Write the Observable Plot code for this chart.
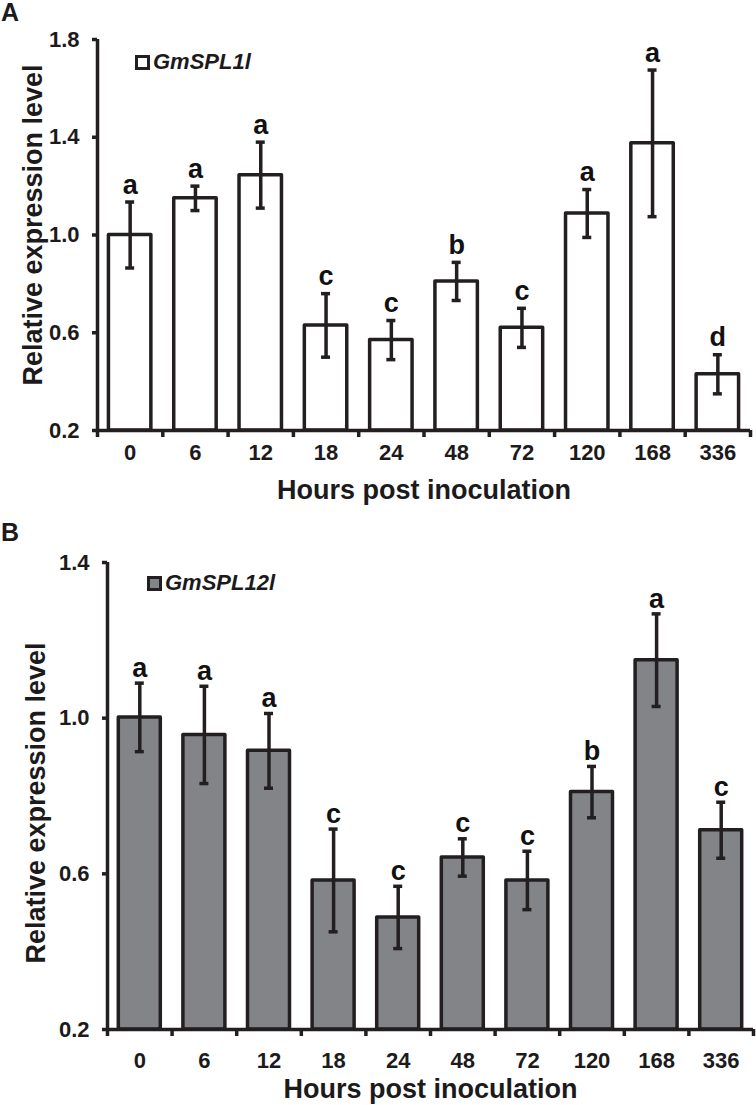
<!DOCTYPE html>
<html>
<head>
<meta charset="utf-8">
<script src="https://cdn.jsdelivr.net/npm/d3@7"></script>
<script src="https://cdn.jsdelivr.net/npm/@observablehq/plot@0.6"></script>
<style>
  body { margin: 0; background: #fff; }
  #wrap { position: relative; width: 756px; height: 1105px; font-family: "Liberation Sans", Arial, sans-serif; color: #1c1a1b; }
  .panel { position: absolute; left: 0; }
  .plabel { position: absolute; font-weight: bold; font-size: 25px; line-height: 1; }
  .leg { position: absolute; display: flex; align-items: center; font-weight: bold; font-style: italic; font-size: 22px; line-height: 1; }
  .sw { width: 15px; height: 15px; box-sizing: border-box; border: 3.5px solid #231f20; margin-right: 3px; }
</style>
</head>
<body>
<div id="wrap">
  <div class="panel" id="panelA" style="top:0"></div>
  <div class="panel" id="panelB" style="top:520px"></div>
  <div class="plabel" style="left:1px;top:0px">A</div>
  <div class="plabel" style="left:1px;top:520px">B</div>
  <div class="leg" style="left:135px;top:51px"><div class="sw" style="background:#fff"></div><span>GmSPL1l</span></div>
  <div class="leg" style="left:147px;top:572px"><div class="sw" style="background:#838488"></div><span>GmSPL12l</span></div>
</div>
<script>
const hours = ["0", "6", "12", "18", "24", "48", "72", "120", "168", "336"];

const meanA = [1.00, 1.15, 1.245, 0.63, 0.57, 0.81, 0.62, 1.088, 1.375, 0.43];
const errA  = [0.135, 0.05, 0.135, 0.13, 0.08, 0.078, 0.08, 0.098, 0.30, 0.08];
const letA  = ["a", "a", "a", "c", "c", "b", "c", "a", "a", "d"];

const meanB = [1.002, 0.957, 0.916, 0.583, 0.488, 0.642, 0.583, 0.81, 1.149, 0.712];
const errB  = [0.088, 0.125, 0.096, 0.132, 0.08, 0.048, 0.075, 0.066, 0.119, 0.072];
const letB  = ["a", "a", "a", "c", "c", "c", "c", "b", "a", "c"];

const yTicksA = [0.2, 0.6, 1.0, 1.4, 1.8];
const yTicksB = [0.2, 0.6, 1.0, 1.4];

const xTitle = "Hours post inoculation";
const yTitle = "Relative expression level";

const ink = "#231f20";

function panel({mean, err, letters, yTicks, fill, height, marginTop, marginBottom, marginLeft, marginRight, tickPad, letterDy, yTitleDx, yTitleDy}) {
  const rows = hours.map((h, i) => ({h, v: mean[i], lo: mean[i] - err[i], hi: mean[i] + err[i], t: letters[i]}));
  const width = 756;
  const padding = 0.35;
  const step = (width - marginLeft - marginRight) / hours.length;
  const bw = step * (1 - padding);
  const capInset = (bw - 9) / 2;
  const yMin = yTicks[0], yMax = yTicks[yTicks.length - 1];
  return Plot.plot({
    width, height, marginTop, marginBottom, marginLeft, marginRight,
    style: {fontFamily: "'Liberation Sans', Arial, sans-serif", fontWeight: "bold", fontSize: "22px", color: "#1c1a1b", background: "#fff"},
    x: {domain: hours, type: "band", paddingInner: padding, paddingOuter: padding / 2, round: false, label: null},
    y: {domain: [yMin, yMax], label: null},
    marks: [
      Plot.barY(rows, {x: "h", y1: yMin, y2: "v", fill, stroke: ink, strokeWidth: 3.5, strokeLinejoin: "round"}),
      Plot.ruleX(rows, {x: "h", y1: "lo", y2: "hi", stroke: ink, strokeWidth: 3.5}),
      Plot.tickY(rows, {x: "h", y: "hi", stroke: ink, strokeWidth: 3.5, insetLeft: capInset, insetRight: capInset}),
      Plot.tickY(rows, {x: "h", y: "lo", stroke: ink, strokeWidth: 3.5, insetLeft: capInset, insetRight: capInset}),
      Plot.text(rows, {x: "h", y: "hi", text: "t", dy: letterDy, fontSize: 27, fontWeight: "bold", fill: "#111"}),
      // axis lines
      Plot.ruleY([yMin], {stroke: ink, strokeWidth: 3.5}),
      Plot.ruleX([hours[0]], {x: d => d, y1: yMax, y2: yMin, dx: -step / 2, stroke: ink, strokeWidth: 3.5}),
      // x ticks at band edges
      Plot.ruleX(hours, {x: d => d, y1: yMin, y2: yMin, dx: -step / 2, insetBottom: -7, stroke: ink, strokeWidth: 3.5}),
      Plot.ruleX([hours[hours.length - 1]], {x: d => d, y1: yMin, y2: yMin, dx: step / 2, insetBottom: -7, stroke: ink, strokeWidth: 3.5}),
      Plot.axisY({ticks: yTicks, tickFormat: d => d.toFixed(1), tickSize: 5, tickPadding: 13, strokeWidth: 3.5, stroke: ink, fontSize: 22, label: null}),
      Plot.axisX({tickSize: 0, tickPadding: tickPad, fontSize: 22, label: null}),
      Plot.text([xTitle], {frameAnchor: "bottom", lineAnchor: "middle", textAnchor: "middle", dy: 60, fontSize: 27, fontWeight: "bold"}),
      Plot.text([yTitle], {frameAnchor: "left", lineAnchor: "middle", textAnchor: "middle", rotate: -90, dx: yTitleDx, dy: yTitleDy, fontSize: 27, fontWeight: "bold"})
    ]
  });
}

document.getElementById("panelA").append(panel({
  mean: meanA, err: errA, letters: letA, yTicks: yTicksA, fill: "#ffffff",
  height: 520, marginTop: 39, marginBottom: 90, marginLeft: 97, marginRight: 6,
  tickPad: 14, letterDy: -17, yTitleDx: -64, yTitleDy: -10
}));

document.getElementById("panelB").append(panel({
  mean: meanB, err: errB, letters: letB, yTicks: yTicksB, fill: "#838488",
  height: 585, marginTop: 42, marginBottom: 76, marginLeft: 107, marginRight: 3,
  tickPad: 23, letterDy: -15, yTitleDx: -71, yTitleDy: 7
}));
</script>
</body>
</html>
